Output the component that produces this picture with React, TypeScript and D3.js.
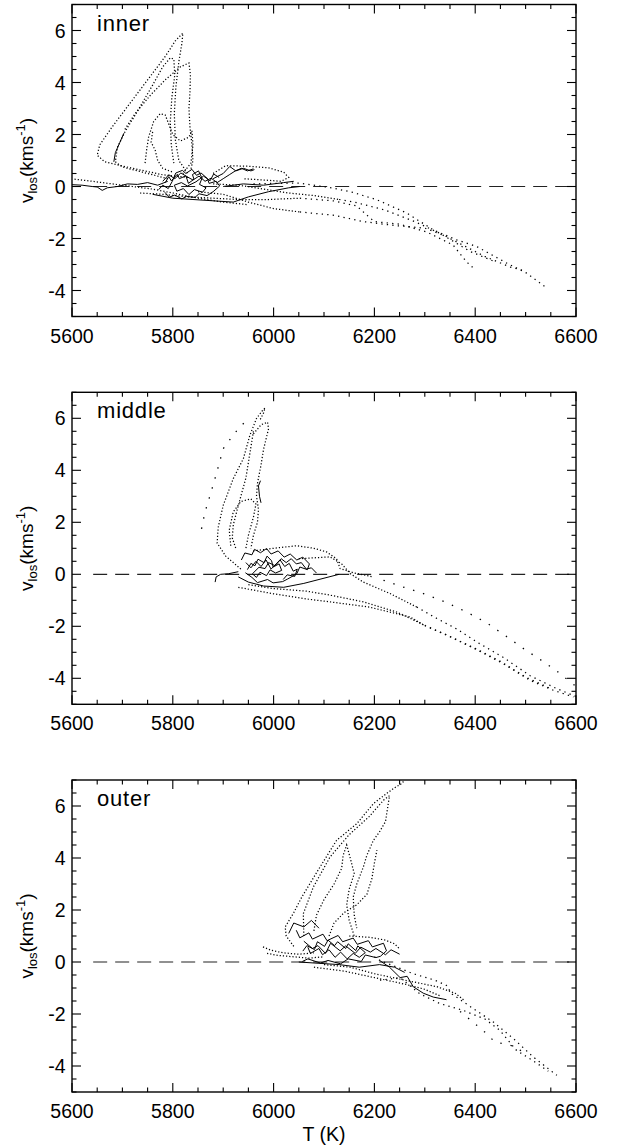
import React from "react";
import * as d3 from "d3";

type Pt = [number, number];

// ---------- axis / label data ----------
const xDomain: [number, number] = [5600, 6600];
const yDomain: [number, number] = [-5, 7];
const xTickLabels = [5600, 5800, 6000, 6200, 6400, 6600];
const yTickLabels = [-4, -2, 0, 2, 4, 6];
const panelNames = ["inner", "middle", "outer"];

// ---------- inner ----------
const innerDotted: Pt[][] = [
  [[5830,0.35],[5780,0.45],[5720,0.7],[5665,0.95],[5650,1.2],[5655,1.6],[5680,2.3],[5715,3.2],[5750,4.1],[5785,5.0],[5805,5.6],[5820,5.9],[5818,5.5],[5812,4.8],[5806,3.8],[5803,2.8],[5805,1.8],[5812,1.0],[5830,0.5]],
  [[5790,0.3],[5740,0.55],[5700,0.75],[5686,0.95],[5690,1.5],[5705,2.1],[5730,2.9],[5760,3.9],[5780,4.6],[5795,4.95],[5802,4.9],[5804,4.3],[5798,3.4],[5795,2.5],[5797,1.6],[5802,0.9]],
  [[5705,2.2],[5725,2.8],[5755,3.5],[5785,4.1],[5815,4.6],[5832,4.75],[5835,4.3],[5834,3.6],[5832,3.0],[5834,2.3],[5838,1.6],[5840,1.0],[5835,0.6]],
  [[5745,0.9],[5748,1.4],[5752,1.9],[5762,2.5],[5775,2.8],[5785,2.75],[5792,2.4],[5800,2.0],[5815,1.75],[5832,1.9],[5838,2.15],[5840,1.6],[5836,0.9],[5820,0.5]],
  [[5760,2.1],[5757,1.7],[5765,1.4],[5770,1.0],[5780,0.7],[5800,0.55]],
  [[5880,0.5],[5905,0.8],[5950,0.78],[5990,0.72],[6020,0.55],[6030,0.35],[6015,0.2],[5980,0.25],[5940,0.3]],
  [[5605,0.28],[5640,0.2],[5680,0.1],[5720,0.0],[5760,-0.1],[5800,-0.25],[5850,-0.45],[5900,-0.6],[5950,-0.7]],
  [[5735,-0.25],[5780,-0.3],[5830,-0.4],[5880,-0.45],[5930,-0.5],[5990,-0.5],[6052,-0.45]],
  [[5850,-0.2],[5900,-0.3],[5950,-0.6],[6000,-0.85],[6052,-0.98]],
  [[5880,0.1],[5930,0.05],[5980,-0.1],[6030,-0.25],[6080,-0.35],[6130,-0.5]],
];
const innerSparse: Pt[][] = [
  [[5960,0.1],[6000,0.12],[6052,0.13],[6118,-0.06],[6158,-0.23],[6205,-0.51],[6264,-1.02],[6317,-1.67],[6363,-2.05],[6403,-2.31],[6463,-2.95],[6502,-3.33],[6538,-3.85]],
  [[6052,-0.45],[6118,-0.55],[6165,-0.75],[6185,-1.1],[6200,-1.35],[6250,-1.45],[6304,-1.75],[6356,-2.25],[6383,-2.9],[6400,-3.2]],
  [[6052,-0.98],[6118,-1.1],[6178,-1.35],[6240,-1.5],[6300,-1.6],[6340,-1.9],[6380,-2.3],[6420,-2.7],[6470,-3.1],[6500,-3.25]],
  [[6130,-0.5],[6160,-0.6],[6220,-0.9],[6280,-1.35],[6330,-1.8],[6390,-2.5],[6440,-2.9]],
];
const innerScatter: Pt[][] = [];
const innerSolid: Pt[][] = [
  [[5600,0.07],[5620,0.05],[5640,0.0],[5650,-0.02],[5660,-0.15],[5670,-0.05],[5690,0.0],[5710,0.1],[5730,0.08],[5750,0.15],[5770,0.05],[5790,0.2]],
  [[5683,0.95],[5686,1.3],[5695,1.7],[5703,2.05]],
  [[5785,0.15],[5792,0.38],[5797,0.22],[5809,0.47],[5813,0.3],[5826,0.41],[5831,0.12],[5842,0.28],[5839,0.46],[5851,0.6],[5858,0.32],[5853,0.08],[5866,-0.05],[5859,-0.22],[5843,-0.12],[5832,-0.31],[5821,-0.08],[5808,-0.18],[5803,0.05],[5817,0.15],[5829,0.02],[5846,0.18],[5861,0.4],[5874,0.22],[5881,0.48],[5892,0.35]],
  [[5772,-0.12],[5780,0.05],[5791,-0.08],[5799,0.2],[5806,0.52],[5819,0.62],[5826,0.5],[5838,0.66],[5847,0.43],[5856,0.52],[5869,0.3],[5872,0.12],[5886,0.2],[5893,0.02],[5880,-0.2],[5868,-0.35],[5852,-0.28],[5844,-0.42],[5827,-0.38],[5818,-0.48],[5804,-0.33],[5793,-0.41],[5784,-0.22]],
  [[5780,0.2],[5792,0.45],[5804,0.3],[5816,0.52],[5828,0.38],[5840,0.25],[5852,0.4],[5864,0.2],[5876,0.32],[5888,0.15],[5900,0.3],[5912,0.45],[5924,0.6],[5936,0.7],[5948,0.6],[5960,0.68]],
  [[5880,0.3],[5900,0.5],[5913,0.77],[5925,0.6],[5940,0.7],[5955,0.6],[5962,0.65]],
  [[5760,-0.3],[5800,-0.45],[5840,-0.5],[5880,-0.55],[5920,-0.6],[5950,-0.4],[5990,-0.2],[6030,-0.05],[6052,0.0]],
  [[5900,0.0],[5940,0.1],[5980,0.05],[6020,0.15],[6040,0.2]],
];

// ---------- middle ----------
const middleDotted: Pt[][] = [
  [[5935,0.2],[5905,0.7],[5888,1.2],[5890,1.8],[5900,2.65],[5920,3.68],[5940,4.45],[5953,5.35],[5966,5.99],[5978,6.3],[5983,6.4],[5980,6.2],[5972,5.9]],
  [[5960,5.4],[5975,5.75],[5988,5.85],[5990,5.6],[5985,5.2],[5980,4.8],[5975,4.2],[5968,3.5],[5966,3.0],[5970,2.5],[5968,2.0],[5960,1.5],[5955,1.0]],
  [[5960,5.5],[5955,4.9],[5950,4.3],[5945,3.7],[5935,3.0],[5928,2.5],[5920,1.9],[5918,1.4],[5925,1.0]],
  [[5915,1.1],[5912,1.7],[5920,2.4],[5935,2.8],[5955,2.9],[5965,2.7],[5960,2.2],[5950,1.5],[5945,1.0]],
  [[5960,0.9],[6000,1.0],[6046,1.1],[6080,1.0],[6105,0.86],[6125,0.6],[6132,0.22],[6160,0.05],[6198,-0.1]],
  [[5950,-0.4],[6000,-0.55],[6066,-0.65],[6112,-0.8],[6178,-1.06],[6244,-1.45],[6300,-1.96]],
  [[5930,-0.5],[6000,-0.75],[6066,-0.95],[6112,-1.06],[6190,-1.26],[6271,-1.64],[6300,-1.98]],
  [[6050,0.6],[6112,0.67],[6135,0.4],[6152,0.03],[6178,-0.3],[6231,-0.74],[6284,-1.26]],
];
const middleSparse: Pt[][] = [
  [[6284,-1.26],[6324,-1.7],[6363,-2.1],[6403,-2.6],[6456,-3.2],[6509,-3.9],[6562,-4.4],[6600,-4.7]],
  [[6300,-1.96],[6350,-2.4],[6403,-2.9],[6456,-3.44],[6509,-4.08],[6555,-4.46],[6595,-4.72]],
  [[6300,-1.98],[6340,-2.3],[6400,-2.85],[6450,-3.35],[6500,-3.95],[6550,-4.4]],
];
const middleScatter: Pt[][] = [
  [[5857,1.75],[5864,2.4],[5875,3.1],[5887,3.9],[5900,4.83],[5917,5.28],[5933,5.67],[5947,5.92]],
  [[6218,-0.23],[6257,-0.49],[6297,-0.74],[6340,-1.06],[6383,-1.45],[6423,-1.87],[6459,-2.35],[6496,-2.86],[6529,-3.28],[6562,-3.72],[6601,-4.33]],
];
const middleSolid: Pt[][] = [
  [[5884,-0.3],[5886,-0.1],[5895,0.0],[5910,0.02],[5930,0.1]],
  [[5948,0.18],[5955,0.42],[5963,0.33],[5969,0.58],[5981,0.45],[5987,0.7],[5996,0.52],[5999,0.28],[6011,0.4],[6016,0.15],[6004,0.05],[5993,0.17],[5986,-0.05],[5973,0.08],[5966,-0.12],[5958,0.02],[5971,0.27],[5983,0.22],[5990,0.45],[6003,0.33],[6013,0.55],[6022,0.3],[6031,0.42],[6039,0.12],[6047,0.2],[6042,-0.08],[6027,-0.02],[6019,-0.2]],
  [[5936,0.55],[5943,0.82],[5957,0.75],[5962,0.96],[5974,0.83],[5986,0.99],[5995,0.78],[6009,0.9],[6021,0.66],[6033,0.78],[6046,0.55],[6058,0.66],[6071,0.4],[6067,0.18],[6052,0.28],[6046,0.02],[6028,-0.18],[6018,-0.28],[5999,-0.33],[5988,-0.2],[5968,-0.32],[5957,-0.12],[5944,0.06]],
  [[5945,0.45],[5955,0.25],[5965,0.5],[5975,0.3],[5985,0.55],[5995,0.2],[6005,0.4],[6015,0.6],[6025,0.45],[6035,0.6],[6045,0.4],[6055,0.45],[6065,0.2],[6075,0.25],[6085,0.05]],
  [[5930,-0.1],[5950,-0.3],[5980,-0.45],[6020,-0.5],[6060,-0.35],[6100,-0.15],[6130,0.0]],
  [[5975,2.75],[5972,3.0],[5970,3.4],[5974,3.6]],
];

// ---------- outer ----------
const outerDotted: Pt[][] = [
  [[6040,0.6],[6025,1.0],[6023,1.35],[6040,1.9],[6056,2.5],[6092,3.65],[6125,4.68],[6165,5.32],[6198,6.09],[6224,6.48],[6240,6.7],[6254,6.86],[6258,6.95]],
  [[6060,1.0],[6059,1.86],[6079,2.89],[6112,4.04],[6150,4.9],[6190,5.6],[6218,6.22],[6230,6.4],[6226,5.9],[6222,5.4],[6210,5.0],[6198,4.68],[6185,4.1],[6178,3.65],[6165,3.0],[6158,2.5],[6160,1.8],[6165,1.3]],
  [[6080,1.2],[6085,1.8],[6100,2.4],[6120,3.0],[6135,3.6],[6138,4.1],[6145,4.5],[6152,4.0],[6160,3.4],[6150,2.8],[6145,2.2],[6150,1.6],[6160,1.0]],
  [[6110,1.0],[6120,1.5],[6140,1.9],[6165,2.2],[6185,2.6],[6195,3.2],[6200,3.8],[6205,4.3]],
  [[5979,0.58],[5995,0.45],[6020,0.35],[6050,0.3],[6080,0.35]],
  [[5987,0.33],[6010,0.25],[6040,0.2],[6070,0.15],[6100,0.2]],
  [[6150,1.0],[6190,0.95],[6220,0.85],[6240,0.7],[6250,0.5]],
  [[6100,-0.1],[6152,-0.2],[6200,-0.45],[6258,-0.69],[6324,-0.95],[6360,-1.2],[6380,-1.5]],
  [[6080,-0.2],[6140,-0.35],[6200,-0.6],[6260,-0.85],[6300,-1.05],[6330,-1.3]],
];
const outerSparse: Pt[][] = [
  [[6200,0.2],[6211,0.06],[6277,-0.45],[6320,-0.7],[6343,-0.9],[6353,-1.22],[6396,-1.79],[6436,-2.31],[6476,-2.95],[6515,-3.65],[6562,-4.36]],
  [[6211,-0.7],[6251,-0.6],[6290,-1.22],[6330,-1.6],[6376,-1.86],[6420,-2.2],[6449,-2.63],[6482,-3.4],[6515,-3.8],[6545,-4.2]],
];
const outerScatter: Pt[][] = [
  [[6370,-1.9],[6403,-2.43],[6423,-2.76],[6439,-3.08],[6470,-3.2],[6500,-3.5]],
];
const outerSolid: Pt[][] = [
  [[6058,0.42],[6066,0.63],[6081,0.48],[6087,0.78],[6101,0.6],[6108,0.84],[6121,0.63],[6127,0.78],[6143,0.52],[6148,0.7],[6163,0.44],[6167,0.62],[6182,0.36],[6170,0.18],[6158,0.33],[6146,0.12],[6133,0.38],[6122,0.18],[6110,0.47],[6097,0.28],[6090,0.52],[6073,0.33],[6068,0.57]],
  [[6045,1.22],[6052,0.93],[6070,1.12],[6077,0.88],[6098,1.07],[6106,0.82],[6128,1.02],[6137,0.78],[6158,0.92],[6166,0.68],[6188,0.82],[6196,0.58],[6218,0.72],[6224,0.43],[6212,0.22],[6203,0.17],[6182,0.27],[6174,0.02],[6148,0.12],[6133,-0.07],[6108,0.06],[6093,-0.04],[6068,0.12],[6057,0.02]],
  [[6060,0.8],[6077,0.52],[6088,0.63],[6103,0.33],[6113,0.72],[6132,0.43],[6143,0.62],[6162,0.33],[6173,0.57],[6192,0.38],[6203,0.52],[6222,0.28],[6233,0.47],[6250,0.3]],
  [[6050,0.0],[6090,-0.05],[6130,-0.1],[6170,-0.2],[6210,-0.1],[6240,-0.2],[6260,-0.4]],
  [[6211,0.05],[6230,-0.2],[6251,-0.6],[6265,-0.55],[6277,-0.95],[6297,-1.2],[6317,-1.35],[6343,-1.45]],
  [[6030,1.1],[6040,1.5],[6060,1.35],[6075,1.6],[6090,1.3]],
];

const panelData = [
  { dotted: innerDotted, sparse: innerSparse, scatter: innerScatter, solid: innerSolid },
  { dotted: middleDotted, sparse: middleSparse, scatter: middleScatter, solid: middleSolid },
  { dotted: outerDotted, sparse: outerSparse, scatter: outerScatter, solid: outerSolid },
];

// ---------- layout ----------
const W = 621;
const H = 1147;
const LEFT = 72;
const RIGHT = 576;
const PANEL_H = 312;
const PANEL_TOPS = [4.5, 392.3, 780];
const FONT = "'Liberation Sans', Arial, Helvetica, sans-serif";

function Panel({ idx }: { idx: number }) {
  const top = PANEL_TOPS[idx];
  const bottom = top + PANEL_H;
  const x = d3.scaleLinear().domain(xDomain).range([LEFT, RIGHT]);
  const y = d3.scaleLinear().domain(yDomain).range([bottom, top]);
  const line = d3
    .line<Pt>()
    .x((d) => x(d[0]))
    .y((d) => y(d[1]));
  const data = panelData[idx];
  const clipId = `clip${idx}`;

  const xMinor = d3.range(xDomain[0], xDomain[1] + 1, 50);
  const yMinor = d3.range(yDomain[0], yDomain[1] + 0.01, 0.5);

  return (
    <g>
      <defs>
        <clipPath id={clipId}>
          <rect x={LEFT} y={top} width={RIGHT - LEFT} height={PANEL_H} />
        </clipPath>
      </defs>
      <g clipPath={`url(#${clipId})`}>
        <line
          x1={x(5642)}
          x2={RIGHT}
          y1={y(0)}
          y2={y(0)}
          stroke="#222"
          strokeWidth={1.2}
          strokeDasharray="14 8"
        />
        {data.dotted.map((p, i) => (
          <path key={"d" + i} d={line(p) || ""} fill="none" stroke="#000" strokeWidth={1.25} strokeDasharray="1.2 2" />
        ))}
        {data.sparse.map((p, i) => (
          <path key={"s" + i} d={line(p) || ""} fill="none" stroke="#000" strokeWidth={1.25} strokeDasharray="1.3 4.2" />
        ))}
        {data.scatter.map((p, i) => (
          <path key={"c" + i} d={line(p) || ""} fill="none" stroke="#000" strokeWidth={1.3} strokeDasharray="1.4 9" />
        ))}
        {data.solid.map((p, i) => (
          <path key={"l" + i} d={line(p) || ""} fill="none" stroke="#000" strokeWidth={1} />
        ))}
      </g>
      {xMinor.map((t) => {
        const major = t % 200 === 0;
        const len = major ? 9 : 4.5;
        return (
          <g key={"xt" + t}>
            <line x1={x(t)} x2={x(t)} y1={bottom} y2={bottom - len} stroke="#000" strokeWidth={1.1} />
            <line x1={x(t)} x2={x(t)} y1={top} y2={top + len} stroke="#000" strokeWidth={1.1} />
          </g>
        );
      })}
      {yMinor.map((t) => {
        const major = Math.abs(t % 2) < 1e-6 || Math.abs(Math.abs(t % 2) - 2) < 1e-6;
        const len = major ? 9 : 4.5;
        return (
          <g key={"yt" + t}>
            <line x1={LEFT} x2={LEFT + len} y1={y(t)} y2={y(t)} stroke="#000" strokeWidth={1.1} />
            <line x1={RIGHT} x2={RIGHT - len} y1={y(t)} y2={y(t)} stroke="#000" strokeWidth={1.1} />
          </g>
        );
      })}
      <rect x={LEFT} y={top} width={RIGHT - LEFT} height={PANEL_H} fill="none" stroke="#000" strokeWidth={1.4} />
      {xTickLabels.map((t) => (
        <text key={"xl" + t} x={x(t)} y={bottom + 26} textAnchor="middle" fontSize={19.5} fill="#000">
          {t}
        </text>
      ))}
      {yTickLabels.map((t) => (
        <text key={"yl" + t} x={65.5} y={y(t) + 7} textAnchor="end" fontSize={19.5} fill="#000">
          {t}
        </text>
      ))}
      <text x={97} y={top + 26} fontSize={22} letterSpacing={0.8} fill="#000">
        {panelNames[idx]}
      </text>
      <text
        transform={`translate(33, ${(top + bottom) / 2}) rotate(-90)`}
        textAnchor="middle"
        fontSize={19}
        fill="#000"
      >
        <tspan>v</tspan>
        <tspan fontSize={13} dy={4}>los</tspan>
        <tspan dy={-4}>(kms</tspan>
        <tspan fontSize={13} dy={-8}>-1</tspan>
        <tspan dy={8}>)</tspan>
      </text>
    </g>
  );
}

export default function App() {
  return (
    <svg
      width={W}
      height={H}
      style={{ position: "absolute", left: 0, top: 0, background: "#fff" }}
      fontFamily={FONT}
    >
      <rect x={0} y={0} width={W} height={H} fill="#fff" />
      {[0, 1, 2].map((i) => (
        <Panel key={i} idx={i} />
      ))}
      <text x={(LEFT + RIGHT) / 2} y={1141} textAnchor="middle" fontSize={19.5} fill="#000">
        T (K)
      </text>
    </svg>
  );
}
